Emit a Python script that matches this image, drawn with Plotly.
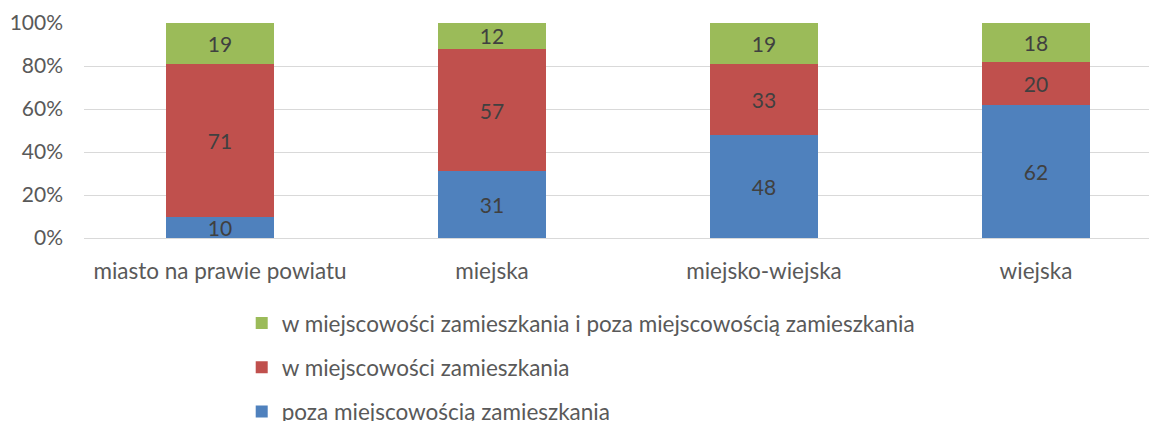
import plotly.graph_objects as go

categories = ["miasto na prawie powiatu", "miejska", "miejsko-wiejska", "wiejska"]
poza = [10, 31, 48, 62]
w_miejsc = [71, 57, 33, 20]
oba = [19, 12, 19, 18]
y_ticks = [0, 20, 40, 60, 80, 100]
y_tick_labels = ["0%", "20%", "40%", "60%", "80%", "100%"]

names = [
    "poza miejscowością zamieszkania",
    "w miejscowości zamieszkania",
    "w miejscowości zamieszkania i poza miejscowością zamieszkania",
]
colors = ["#4F81BD", "#C0504D", "#9BBB59"]
series = [poza, w_miejsc, oba]
ranks = [3, 2, 1]

font_family = "Lato, 'Open Sans', sans-serif"
fs = 21

fig = go.Figure()
for i, (name, vals, col) in enumerate(zip(names, series, colors)):
    fig.add_trace(go.Bar(
        x=categories, y=vals, name=name,
        marker=dict(color=col, line=dict(width=0)),
        text=[str(v) for v in vals], textposition="inside",
        insidetextanchor="middle", textangle=0, constraintext="none",
        textfont=dict(color="#404040", size=fs, family=font_family),
        width=0.4, legendgroup=str(i), legendrank=ranks[i],
    ))

fig.update_layout(
    barmode="stack",
    width=1157, height=421,
    margin=dict(l=76, r=8, t=15, b=191, autoexpand=False),
    paper_bgcolor="white", plot_bgcolor="white",
    font=dict(family=font_family, color="#595959", size=fs),
    uniformtext=dict(minsize=fs, mode="show"),
    xaxis=dict(range=[-0.5, 3.445], showgrid=False, showline=True,
               linecolor="#D9D9D9", linewidth=1, ticks="",
               tickfont=dict(size=22.5, color="#595959"),
               ticklabelstandoff=13, automargin=False),
    yaxis=dict(range=[0, 100], tickvals=y_ticks, ticktext=y_tick_labels,
               showgrid=True, gridcolor="#D9D9D9", gridwidth=1,
               zeroline=False, ticks="",
               tickfont=dict(size=fs, color="#595959"),
               ticklabelstandoff=20, automargin=False),
    legend=dict(orientation="v", xref="container", yref="container",
                x=0.202, xanchor="left", y=0.302, yanchor="top",
                traceorder="grouped", tracegroupgap=12,
                font=dict(size=22.5, color="#595959"),
                itemwidth=30, bgcolor="rgba(0,0,0,0)"),
    showlegend=True,
)

fig.write_html("out.html")
